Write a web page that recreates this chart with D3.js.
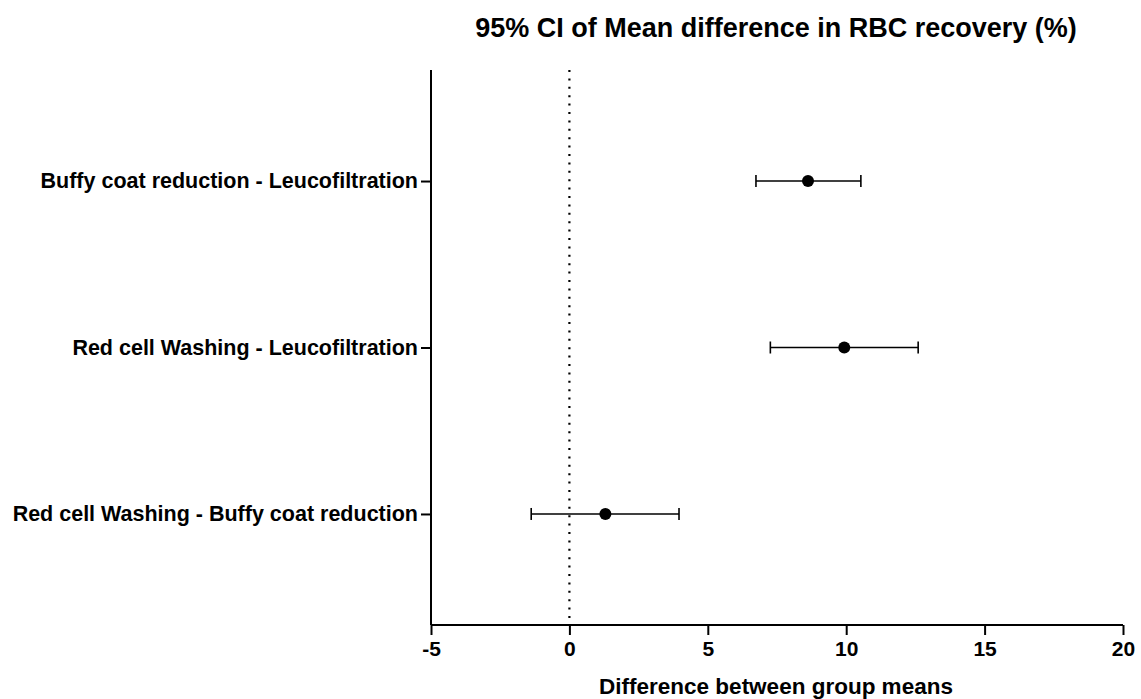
<!DOCTYPE html>
<html>
<head>
<meta charset="utf-8">
<script src="https://cdn.jsdelivr.net/npm/d3@7"></script>
<style>
  body { margin: 0; background: #fff; }
  svg { display: block; font-family: "Liberation Sans", Arial, sans-serif; }
</style>
</head>
<body>
<svg id="chart" width="1141" height="699"></svg>
<script>
// Tukey-style comparisons: mean difference with 95% CI
const comparisons = [
  "Buffy coat reduction - Leucofiltration",
  "Red cell Washing - Leucofiltration",
  "Red cell Washing - Buffy coat reduction"
];
const meanDiff = [8.62, 9.93, 1.30];
const ciLow = [6.74, 7.26, -1.38];
const ciHigh = [10.53, 12.60, 3.96];
const xTicks = [-5, 0, 5, 10, 15, 20];

const svg = d3.select("#chart");
const plotLeft = 431, plotRight = 1123, plotTop = 70, plotBottom = 625;
const fontFamily = "Liberation Sans, Arial, sans-serif";

const x = d3.scaleLinear().domain([-5, 20]).range([plotLeft, plotRight]);
const y = d3.scalePoint().domain(comparisons).range([plotTop, plotBottom]).padding(0.667);

// Title
svg.append("text")
  .attr("x", 776).attr("y", 37)
  .attr("text-anchor", "middle")
  .attr("font-size", 27).attr("font-weight", "bold")
  .text("95% CI of Mean difference in RBC recovery (%)");

// Zero reference line
svg.append("line")
  .attr("x1", x(0)).attr("x2", x(0))
  .attr("y1", plotTop).attr("y2", plotBottom)
  .attr("stroke", "#000").attr("stroke-width", 2.2)
  .attr("stroke-dasharray", "2,6.4");

// X axis
const xAxis = svg.append("g")
  .attr("transform", `translate(0,${plotBottom})`)
  .call(d3.axisBottom(x).tickValues(xTicks).tickSize(10).tickPadding(6).tickFormat(d => String(d)));
xAxis.select(".domain").attr("stroke-width", 2).attr("d", `M${plotLeft},0H${plotRight}`);
xAxis.selectAll(".tick line").attr("stroke-width", 2);
xAxis.selectAll(".tick text")
  .attr("font-size", 21).attr("font-weight", "bold")
  .attr("font-family", fontFamily).attr("fill", "#000");

// Y axis
const yAxis = svg.append("g")
  .attr("transform", `translate(${plotLeft},0)`)
  .call(d3.axisLeft(y).tickSize(10).tickPadding(3));
yAxis.select(".domain").attr("stroke-width", 2).attr("d", `M0,${plotTop}V${plotBottom}`);
yAxis.selectAll(".tick line").attr("stroke-width", 2);
yAxis.selectAll(".tick text")
  .attr("font-size", 21.5).attr("font-weight", "bold")
  .attr("font-family", fontFamily).attr("fill", "#000");

// X axis title
svg.append("text")
  .attr("x", 776).attr("y", 694)
  .attr("text-anchor", "middle")
  .attr("font-size", 22.5).attr("font-weight", "bold")
  .text("Difference between group means");

// Confidence intervals and point estimates
const rows = comparisons.map((c, i) => ({ c, m: meanDiff[i], lo: ciLow[i], hi: ciHigh[i] }));
const g = svg.append("g").attr("stroke", "#000").attr("stroke-width", 1.6);
g.selectAll("line.ci").data(rows).join("line")
  .attr("x1", d => x(d.lo)).attr("x2", d => x(d.hi))
  .attr("y1", d => y(d.c)).attr("y2", d => y(d.c));
g.selectAll("line.capL").data(rows).join("line")
  .attr("x1", d => x(d.lo)).attr("x2", d => x(d.lo))
  .attr("y1", d => y(d.c) - 6).attr("y2", d => y(d.c) + 6);
g.selectAll("line.capR").data(rows).join("line")
  .attr("x1", d => x(d.hi)).attr("x2", d => x(d.hi))
  .attr("y1", d => y(d.c) - 6).attr("y2", d => y(d.c) + 6);
svg.selectAll("circle.pt").data(rows).join("circle")
  .attr("cx", d => x(d.m)).attr("cy", d => y(d.c)).attr("r", 6).attr("fill", "#000");
</script>
</body>
</html>
